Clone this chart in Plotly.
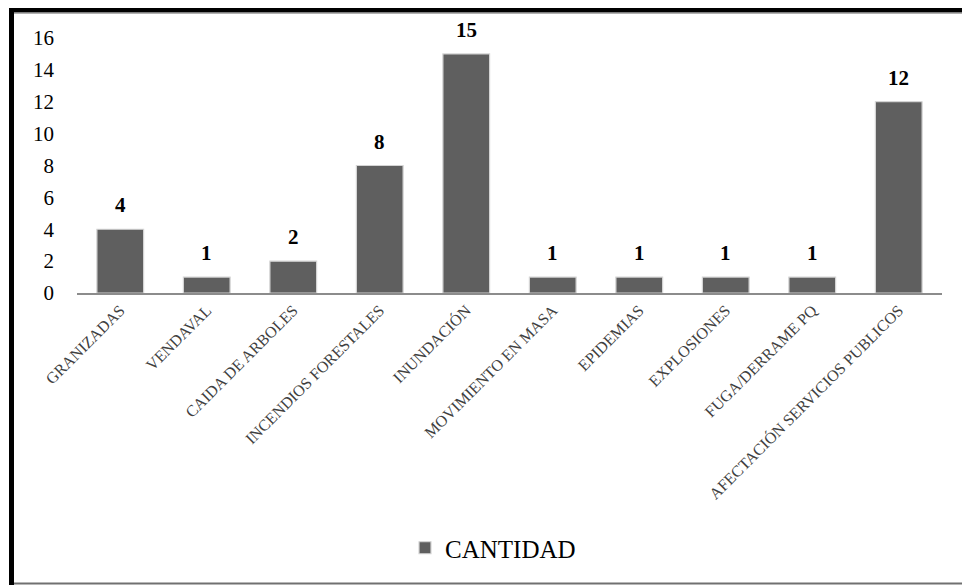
import plotly.graph_objects as go

categories = ["GRANIZADAS", "VENDAVAL", "CAIDA DE ARBOLES", "INCENDIOS FORESTALES",
              "INUNDACIÓN", "MOVIMIENTO EN MASA", "EPIDEMIAS", "EXPLOSIONES",
              "FUGA/DERRAME PQ", "AFECTACIÓN SERVICIOS PUBLICOS"]
cantidad = [4, 1, 2, 8, 15, 1, 1, 1, 1, 12]
y_ticks = [0, 2, 4, 6, 8, 10, 12, 14, 16]
series_name = "CANTIDAD"

SERIF = "Liberation Serif"

W, H = 962, 585
L, R, T, B = 77, 20, 38, 292
PW, PH = W - L - R, H - T - B

def px_x(p):
    return (p - L) / PW

def px_y(p):
    return (H - B - p) / PH

fig = go.Figure()
fig.add_trace(go.Bar(
    x=categories, y=cantidad, name=series_name,
    marker=dict(color="#5f5f5f", line=dict(color="#d4d4d4", width=1.2)),
    showlegend=True,
))

for c, v in zip(categories, cantidad):
    fig.add_annotation(x=c, y=v, text="<b>%d</b>" % v, showarrow=False, yanchor="bottom",
                       yshift=10, font=dict(family=SERIF, size=21, color="black"))

shapes = [
    dict(type="rect", xref="paper", yref="paper", x0=px_x(9), x1=px_x(14),
         y0=px_y(585), y1=px_y(8), fillcolor="black", line=dict(width=0), layer="above"),
    dict(type="rect", xref="paper", yref="paper", x0=px_x(9), x1=px_x(962),
         y0=px_y(12.5), y1=px_y(8), fillcolor="black", line=dict(width=0), layer="above"),
    dict(type="line", xref="paper", yref="paper", x0=px_x(14), x1=px_x(962),
         y0=px_y(13.5), y1=px_y(13.5), line=dict(color="#b0b0b0", width=1)),
    dict(type="line", xref="paper", yref="paper", x0=px_x(14), x1=px_x(962),
         y0=px_y(583.5), y1=px_y(583.5), line=dict(color="#707070", width=2)),
]

fig.update_layout(
    width=W, height=H,
    margin=dict(l=L, r=R, t=T, b=B, pad=0),
    paper_bgcolor="white", plot_bgcolor="white",
    bargap=0.46,
    font=dict(family=SERIF, color="black"),
    shapes=shapes,
    legend=dict(orientation="h", x=px_x(493), xanchor="center", y=px_y(548), yanchor="middle",
                font=dict(family=SERIF, size=25, color="black"),
                itemwidth=30),
    xaxis=dict(showline=True, linecolor="#8c8c8c", linewidth=1.5, ticks="",
               tickangle=-45, tickfont=dict(family=SERIF, size=16, color="#404040"),
               showgrid=False, zeroline=False, fixedrange=True),
    yaxis=dict(range=[0, 16], tickvals=y_ticks, showgrid=False, zeroline=False,
               showline=False, ticks="", ticklabelstandoff=22, fixedrange=True,
               tickfont=dict(family=SERIF, size=21, color="black")),
)

fig.write_html("out.html", config={"displayModeBar": False},
               post_script="document.body.style.margin='0';document.body.style.overflow='hidden';")
